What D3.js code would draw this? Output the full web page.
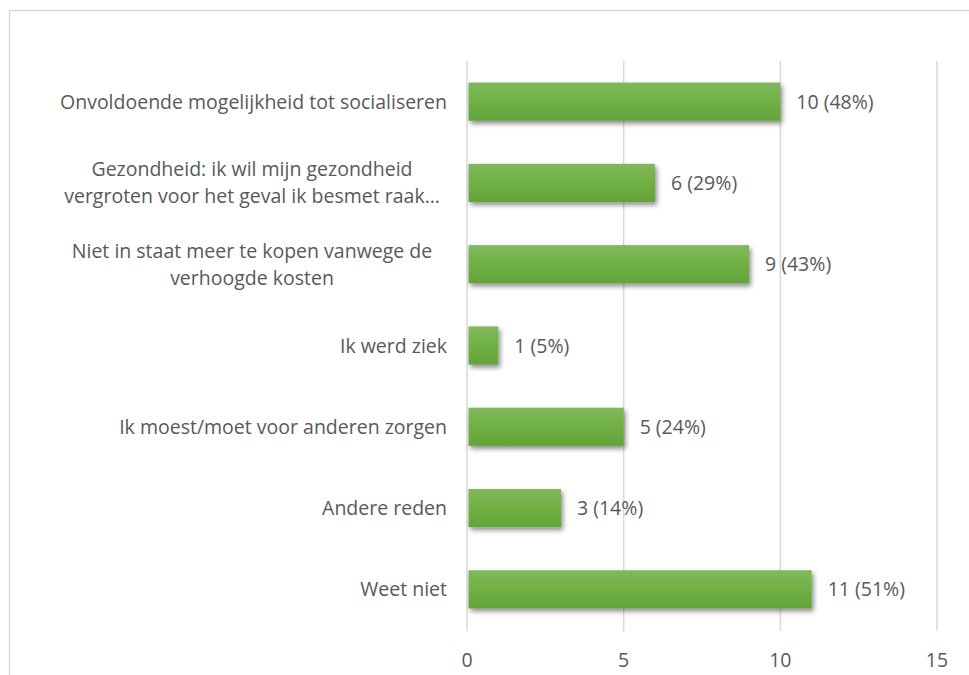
<!DOCTYPE html>
<html><head><meta charset="utf-8">
<script src="https://cdn.jsdelivr.net/npm/d3@7/dist/d3.min.js"></script>
<style>html,body{margin:0;padding:0;background:#fff;}</style>
</head><body>
<svg id="c" width="969" height="675"></svg>
<script>
const categories = [
  ["Onvoldoende mogelijkheid tot socialiseren"],
  ["Gezondheid: ik wil mijn gezondheid", "vergroten voor het geval ik besmet raak…"],
  ["Niet in staat meer te kopen vanwege de", "verhoogde kosten"],
  ["Ik werd ziek"],
  ["Ik moest/moet voor anderen zorgen"],
  ["Andere reden"],
  ["Weet niet"]
];
const values = [10, 6, 9, 1, 5, 3, 11];
const percents = ["48%", "29%", "43%", "5%", "24%", "14%", "51%"];
const xTicks = [0, 5, 10, 15];

const svg = d3.select("#c");
const font = "'Open Sans', sans-serif";
const textColor = "#595959";

// frame
svg.append("rect").attr("x", 9.5).attr("y", 10.5).attr("width", 1000).attr("height", 1000)
  .attr("fill", "none").attr("stroke", "#d9d9d9").attr("stroke-width", 1.5);

const defs = svg.append("defs");
const grad = defs.append("linearGradient").attr("id", "g").attr("x1", 0).attr("x2", 0).attr("y1", 0).attr("y2", 1);
grad.append("stop").attr("offset", "0%").attr("stop-color", "#80b85e");
grad.append("stop").attr("offset", "50%").attr("stop-color", "#71b043");
grad.append("stop").attr("offset", "100%").attr("stop-color", "#63a33a");
const f = defs.append("filter").attr("id", "sh").attr("x", "-10%").attr("y", "-30%").attr("width", "130%").attr("height", "180%");
f.append("feGaussianBlur").attr("in", "SourceAlpha").attr("stdDeviation", 2.5).attr("result", "b");
f.append("feOffset").attr("in", "b").attr("dx", 2).attr("dy", 3).attr("result", "o");
f.append("feComponentTransfer").attr("in", "o").attr("result", "o2")
  .append("feFuncA").attr("type", "linear").attr("slope", 0.45);
const m = f.append("feMerge");
m.append("feMergeNode").attr("in", "o2");
m.append("feMergeNode").attr("in", "SourceGraphic");

const x = d3.scaleLinear().domain([0, 15]).range([467, 937]);
const y = d3.scaleBand().domain(d3.range(categories.length)).range([61, 630]).padding(0);
const barH = y.bandwidth() * 0.47;

// calibrate font size
const probe = svg.append("text").attr("font-family", font).attr("font-size", 100).text(categories[0][0]);
const w100 = probe.node().getComputedTextLength();
probe.remove();
const fs = 100 * 387 / w100;

// gridlines
svg.append("g").selectAll("line").data(xTicks).join("line")
  .attr("x1", d => x(d)).attr("x2", d => x(d)).attr("y1", 61).attr("y2", 631)
  .attr("stroke", "#d9d9d9").attr("stroke-width", 1.5);

// bars
svg.append("g").selectAll("rect").data(values).join("rect")
  .attr("x", x(0) + 1.5).attr("y", (d, i) => y(i) + (y.bandwidth() - barH) / 2)
  .attr("width", d => x(d) - x(0) - 1.5).attr("height", barH)
  .attr("fill", "url(#g)").attr("filter", "url(#sh)");

// value labels
svg.append("g").selectAll("text").data(values).join("text")
  .attr("x", d => x(d) + 16).attr("y", (d, i) => y(i) + y.bandwidth() / 2)
  .attr("dy", "0.36em").attr("font-family", font).attr("font-size", fs).attr("fill", textColor)
  .text((d, i) => `${d} (${percents[i]})`);

// category labels
const labelRight = 447;
const labelCenter = 252;
const lineH = 27;
categories.forEach((lines, i) => {
  const cy = y(i) + y.bandwidth() / 2;
  const g = svg.append("g");
  if (lines.length === 1) {
    g.append("text").attr("x", labelRight).attr("y", cy).attr("dy", "0.36em")
      .attr("text-anchor", "end").attr("font-family", font).attr("font-size", fs)
      .attr("fill", textColor).text(lines[0]);
  } else {
    lines.forEach((l, k) => g.append("text")
      .attr("x", labelCenter)
      .attr("y", cy + (k - (lines.length - 1) / 2) * lineH).attr("dy", "0.36em")
      .attr("text-anchor", "middle").attr("font-family", font).attr("font-size", fs)
      .attr("fill", textColor).text(l));
  }
});

// x axis tick labels
svg.append("g").selectAll("text").data(xTicks).join("text")
  .attr("x", d => x(d)).attr("y", 660).attr("dy", "0.36em").attr("text-anchor", "middle")
  .attr("font-family", font).attr("font-size", fs).attr("fill", textColor)
  .text(d => d);
</script>
</body></html>
